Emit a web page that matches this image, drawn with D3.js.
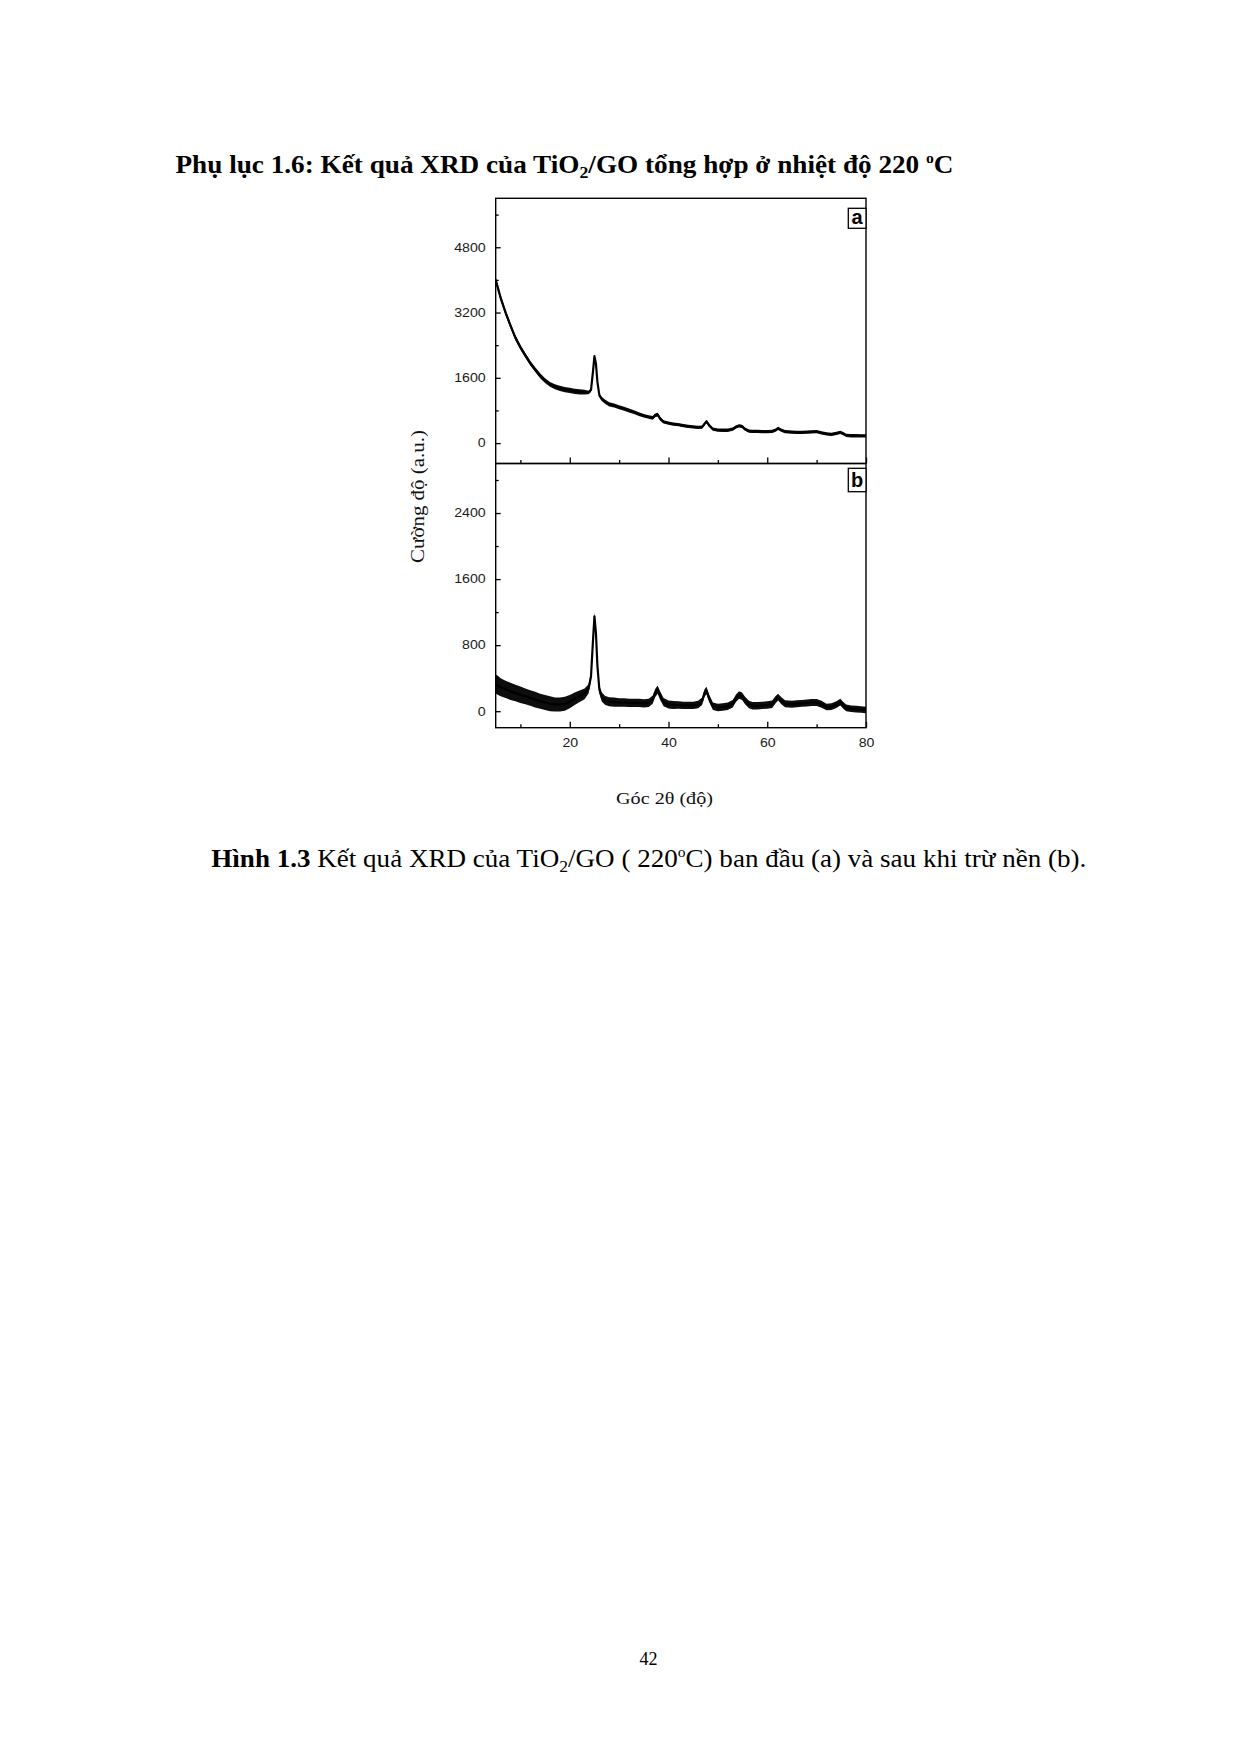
<!DOCTYPE html>
<html>
<head>
<meta charset="utf-8">
<script src="https://cdn.jsdelivr.net/npm/d3@7"></script>
<style>
  html, body { margin: 0; padding: 0; background: #fff; }
  svg { display: block; }
</style>
</head>
<body>
<script>
// ---------------- DATA ----------------
// 2θ positions (degrees), shared by both patterns
const theta = [
  5, 5.5, 6, 7, 8, 9, 10, 11, 12, 13,
  14, 15, 16, 17, 18, 19, 20, 21, 22, 23,
  23.8, 24.3, 24.7, 25.0, 25.3, 25.6, 26.0, 26.5, 27.2, 28,
  29, 30, 31, 32, 33, 34, 35, 36, 36.8, 37.3,
  37.8, 38.3, 39, 40, 41, 42, 43, 44, 45, 46,
  46.8, 47.3, 47.7, 48.2, 49, 50, 51, 52, 53, 53.7,
  54.3, 54.9, 55.5, 56.3, 57, 58, 59, 60, 61, 61.7,
  62.2, 62.8, 63.6, 65, 66, 67, 68, 69, 70, 71,
  72, 73, 74, 74.8, 75.4, 76, 77, 78, 79, 80
];
// (a) raw pattern, intensity (a.u.)
const rawIntensity = [
  4000, 3780, 3560, 3200, 2880, 2580, 2350, 2150, 1960, 1800,
  1650, 1530, 1440, 1380, 1340, 1310, 1290, 1270, 1255, 1250,
  1240, 1300, 1750, 2130, 1950, 1500, 1170, 1080, 1010, 950,
  920, 880, 840, 800, 760, 710, 670, 640, 620, 680,
  700, 600, 520, 490, 465, 450, 430, 410, 395, 385,
  390, 470, 530, 440, 340, 320, 315, 315, 340, 400,
  425, 410, 340, 295, 285, 285, 280, 280, 285, 320,
  360, 320, 280, 270, 265, 265, 270, 275, 280, 250,
  225, 215, 240, 260, 230, 190, 180, 180, 175, 175
];
// (a) noise half-width of the recorded trace
const rawNoise = [
  70, 70, 70, 70, 65, 65, 60, 60, 60, 60,
  60, 60, 60, 60, 65, 65, 65, 65, 65, 60,
  45, 45, 45, 45, 45, 45, 45, 50, 50, 50,
  50, 50, 48, 48, 45, 45, 45, 45, 45, 45,
  45, 45, 40, 40, 40, 40, 40, 40, 40, 40,
  40, 40, 40, 40, 40, 40, 40, 40, 40, 40,
  40, 40, 40, 40, 40, 40, 40, 40, 40, 40,
  40, 40, 40, 40, 40, 40, 40, 40, 40, 40,
  40, 40, 40, 40, 40, 40, 40, 40, 40, 40
];
// (b) background-subtracted pattern
const subIntensity = [
  330, 310, 290, 265, 240, 220, 200, 180, 160, 140,
  120, 105, 90, 80, 80, 90, 115, 150, 180, 210,
  270, 420, 850, 1150, 950, 550, 260, 170, 130, 115,
  110, 105, 105, 100, 100, 100, 95, 100, 140, 220,
  260, 190, 110, 80, 75, 75, 70, 70, 70, 80,
  120, 220, 250, 160, 60, 45, 50, 60, 90, 160,
  195, 180, 130, 80, 65, 65, 70, 75, 85, 140,
  170, 130, 90, 85, 90, 95, 100, 105, 105, 85,
  50, 55, 80, 110, 70, 40, 30, 25, 20, 15
];
const subNoise = [
  115, 115, 110, 105, 105, 100, 100, 95, 95, 95,
  90, 90, 90, 85, 85, 85, 80, 75, 70, 65,
  55, 50, 45, 45, 45, 45, 50, 55, 55, 55,
  55, 52, 52, 50, 50, 50, 50, 50, 50, 50,
  50, 50, 50, 48, 48, 45, 45, 45, 45, 45,
  45, 45, 45, 45, 45, 45, 45, 45, 45, 45,
  45, 45, 45, 45, 45, 45, 45, 45, 45, 45,
  42, 42, 42, 42, 42, 42, 42, 42, 42, 42,
  40, 40, 40, 40, 40, 40, 40, 40, 40, 40
];
const yTicksA = [0, 1600, 3200, 4800];
const yMinorA = [800, 2400, 4000, 5600];
const yTicksB = [0, 800, 1600, 2400];
const yMinorB = [400, 1200, 2000, 2800];
const xTicks = [20, 40, 60, 80];
const xMinor = [10, 30, 50, 70];

// ---------------- LAYOUT ----------------
const W = 1240, H = 1754;
const L = 495.7, R = 866, Ta = 198.3, Mid = 463.5, Bb = 727.7;
const SERIF = "'Liberation Serif', 'Times New Roman', serif";
const SANS = "'Liberation Sans', Arial, sans-serif";
const fmt = d3.format("d");

const svg = d3.select("body").append("svg").attr("width", W).attr("height", H);
svg.append("rect").attr("width", W).attr("height", H).attr("fill", "#fff");

const x = d3.scaleLinear().domain([5, 80]).range([L, R]);
const ya = d3.scaleLinear().domain([-500, 6000]).range([Mid, Ta]);
const yb = d3.scaleLinear().domain([-200, 3000]).range([Bb, Mid]);

// clip paths
const defs = svg.append("defs");
defs.append("clipPath").attr("id", "clipA").append("rect")
  .attr("x", L).attr("y", Ta).attr("width", R - L).attr("height", Mid - Ta);
defs.append("clipPath").attr("id", "clipB").append("rect")
  .attr("x", L).attr("y", Mid).attr("width", R - L).attr("height", Bb - Mid);

const idx = d3.range(theta.length);

function drawPattern(yScale, vals, noise, clip) {
  const g = svg.append("g").attr("clip-path", `url(#${clip})`);
  const area = d3.area()
    .x(i => x(theta[i]))
    .y0(i => yScale(vals[i] - noise[i]))
    .y1(i => yScale(vals[i] + noise[i]));
  g.append("path").datum(idx).attr("d", area).attr("fill", "#0d0d0d");
  const line = d3.line().x(i => x(theta[i])).y(i => yScale(vals[i]));
  g.append("path").datum(idx).attr("d", line)
    .attr("fill", "none").attr("stroke", "#000").attr("stroke-width", 2.2)
    .attr("stroke-linejoin", "round");
}
drawPattern(ya, rawIntensity, rawNoise, "clipA");
drawPattern(yb, subIntensity, subNoise, "clipB");

function styleAxis(g, size) {
  g.select(".domain").remove();
  g.selectAll(".tick line").attr("stroke", "#000").attr("stroke-width", 1.3);
  g.selectAll("text").attr("font-family", SANS).attr("font-size", size || 12.5).attr("fill", "#1a1a1a");
}
function stretch(g, k) {
  g.selectAll("text").each(function () {
    const len = this.getComputedTextLength();
    if (len > 0) d3.select(this).attr("textLength", len * k).attr("lengthAdjust", "spacingAndGlyphs");
  });
}

// Y axes panel a
const gya = svg.append("g").attr("transform", `translate(${L},0)`)
  .call(d3.axisLeft(ya).tickValues(yTicksA).tickSize(-5).tickPadding(10).tickFormat(fmt));
styleAxis(gya, 12); stretch(gya, 1.18);
const gyam = svg.append("g").attr("transform", `translate(${L},0)`)
  .call(d3.axisLeft(ya).tickValues(yMinorA).tickSize(-3).tickFormat(""));
styleAxis(gyam);

// Y axes panel b
const gyb = svg.append("g").attr("transform", `translate(${L},0)`)
  .call(d3.axisLeft(yb).tickValues(yTicksB).tickSize(-5).tickPadding(10).tickFormat(fmt));
styleAxis(gyb, 12); stretch(gyb, 1.18);
const gybm = svg.append("g").attr("transform", `translate(${L},0)`)
  .call(d3.axisLeft(yb).tickValues(yMinorB).tickSize(-3).tickFormat(""));
styleAxis(gybm);

// X axis under panel a (ticks only)
const gxa = svg.append("g").attr("transform", `translate(0,${Mid})`)
  .call(d3.axisBottom(x).tickValues(xTicks).tickSize(-6).tickFormat(""));
styleAxis(gxa);
const gxam = svg.append("g").attr("transform", `translate(0,${Mid})`)
  .call(d3.axisBottom(x).tickValues(xMinor).tickSize(-3.5).tickFormat(""));
styleAxis(gxam);

// X axis under panel b
const gxb = svg.append("g").attr("transform", `translate(0,${Bb})`)
  .call(d3.axisBottom(x).tickValues(xTicks).tickSize(-6).tickPadding(10).tickFormat(fmt));
styleAxis(gxb, 12.5);
stretch(gxb, 1.13);
const gxbm = svg.append("g").attr("transform", `translate(0,${Bb})`)
  .call(d3.axisBottom(x).tickValues(xMinor).tickSize(-3.5).tickFormat(""));
styleAxis(gxbm);

// Frames
svg.append("rect").attr("x", L).attr("y", Ta).attr("width", R - L).attr("height", Mid - Ta)
  .attr("fill", "none").attr("stroke", "#000").attr("stroke-width", 1.4);
svg.append("rect").attr("x", L).attr("y", Mid).attr("width", R - L).attr("height", Bb - Mid)
  .attr("fill", "none").attr("stroke", "#000").attr("stroke-width", 1.4);

// Panel labels
function panelLabel(lbl, y0, h) {
  svg.append("rect").attr("x", R - 17.7).attr("y", y0).attr("width", 17.7).attr("height", h)
    .attr("fill", "#fff").attr("stroke", "#000").attr("stroke-width", 1.3);
  svg.append("text").attr("x", R - 8.85).attr("y", y0 + h - 4.5)
    .attr("text-anchor", "middle").attr("font-family", SANS).attr("font-weight", "bold")
    .attr("font-size", 20).attr("fill", "#000").text(lbl);
}
panelLabel("a", 208.3, 20);
panelLabel("b", 468.3, 23.4);

// Axis titles
svg.append("text").attr("transform", "translate(424,496.5) rotate(-90)")
  .attr("text-anchor", "middle").attr("font-family", SERIF).attr("font-size", 19)
  .attr("textLength", 133).attr("lengthAdjust", "spacingAndGlyphs")
  .attr("fill", "#111").text("Cường độ (a.u.)");
svg.append("text").attr("x", 664.5).attr("y", 804)
  .attr("text-anchor", "middle").attr("font-family", SERIF).attr("font-size", 16)
  .attr("textLength", 97).attr("lengthAdjust", "spacingAndGlyphs")
  .attr("fill", "#111").text("Góc 2θ (độ)");

// Page heading
const title = svg.append("text").attr("x", 175.5).attr("y", 173)
  .attr("font-family", SERIF).attr("font-weight", "bold").attr("font-size", 26)
  .attr("textLength", 778).attr("lengthAdjust", "spacingAndGlyphs").attr("fill", "#000");
title.append("tspan").text("Phụ lục 1.6: Kết quả XRD của TiO");
title.append("tspan").attr("dy", 5).attr("font-size", 17).text("2");
title.append("tspan").attr("dy", -5).text("/GO tổng hợp ở nhiệt độ 220 ");
title.append("tspan").attr("dy", -10).attr("font-size", 15).text("o");
title.append("tspan").attr("dy", 10).text("C");

// Figure caption
const cap = svg.append("text").attr("x", 211.3).attr("y", 867)
  .attr("font-family", SERIF).attr("font-size", 26)
  .attr("textLength", 875).attr("lengthAdjust", "spacingAndGlyphs").attr("fill", "#000");
cap.append("tspan").attr("font-weight", "bold").text("Hình 1.3");
cap.append("tspan").text(" Kết quả XRD của TiO");
cap.append("tspan").attr("dy", 5).attr("font-size", 17).text("2");
cap.append("tspan").attr("dy", -5).text("/GO ( 220");
cap.append("tspan").attr("dy", -10).attr("font-size", 15).text("o");
cap.append("tspan").attr("dy", 10).text("C) ban đầu (a) và sau khi trừ nền (b).");

// Page number
svg.append("text").attr("x", 648.5).attr("y", 1665).attr("text-anchor", "middle")
  .attr("font-family", SERIF).attr("font-size", 18).attr("fill", "#000").text("42");
</script>
</body>
</html>
